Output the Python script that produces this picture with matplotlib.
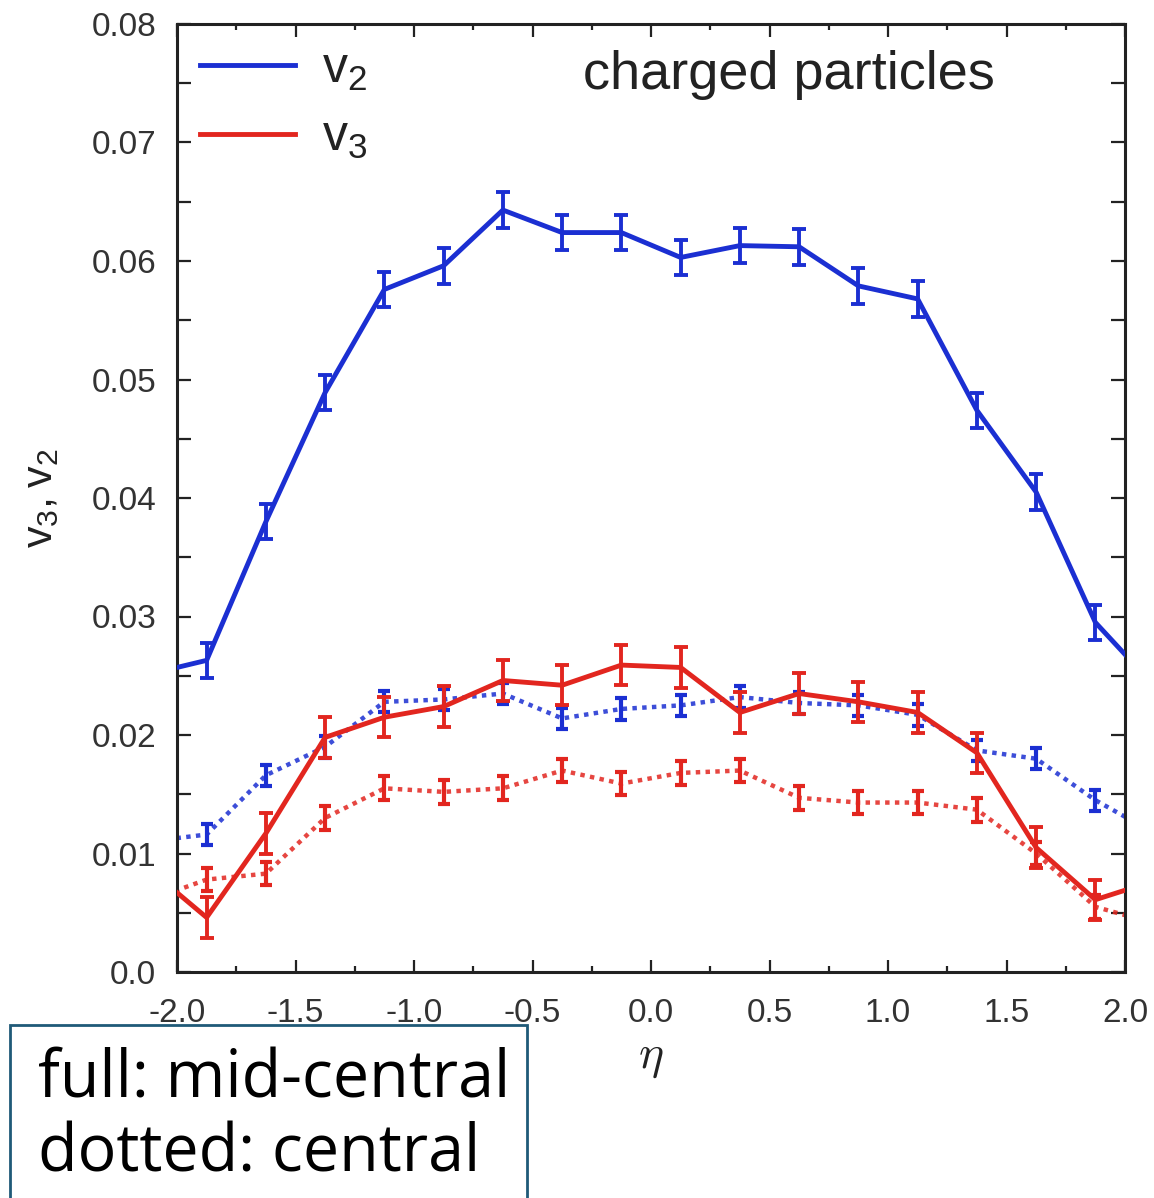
import matplotlib
matplotlib.use("Agg")
import matplotlib.pyplot as plt
import numpy as np
from matplotlib.ticker import MultipleLocator, FixedLocator
from matplotlib.patches import Rectangle

# ---- data ----
eta = [-1.875, -1.625, -1.375, -1.125, -0.875, -0.625, -0.375, -0.125,
       0.125, 0.375, 0.625, 0.875, 1.125, 1.375, 1.625, 1.875]
# points just outside the visible range (lines continue to the frame)
eta_left = -2.125
eta_right = 2.125

v2_mid = [0.0263, 0.0380, 0.0489, 0.0576, 0.0596, 0.0643, 0.0624, 0.0624,
          0.0603, 0.0613, 0.0612, 0.0579, 0.0568, 0.0474, 0.0405, 0.0295]
v2_mid_edge = [0.0251, 0.0241]
v2_mid_err = 0.0015

v3_mid = [0.0046, 0.0117, 0.0198, 0.0215, 0.0224, 0.0246, 0.0242, 0.0259,
          0.0257, 0.0219, 0.0235, 0.0228, 0.0219, 0.0185, 0.0105, 0.0061]
v3_mid_edge = [0.0088, 0.0077]
v3_mid_err = 0.0017

v2_cen = [0.0116, 0.0166, 0.0190, 0.0228, 0.0230, 0.0235, 0.0214, 0.0222,
          0.0225, 0.0232, 0.0227, 0.0225, 0.0217, 0.0187, 0.0180, 0.0145]
v2_cen_edge = [0.0110, 0.0117]
v2_cen_err = 0.0009

v3_cen = [0.0078, 0.0083, 0.0130, 0.0155, 0.0152, 0.0155, 0.0170, 0.0159,
          0.0168, 0.0170, 0.0147, 0.0143, 0.0143, 0.0137, 0.0100, 0.0055]
v3_cen_edge = [0.0060, 0.0041]
v3_cen_err = 0.0010

xticks = [-2.0, -1.5, -1.0, -0.5, 0.0, 0.5, 1.0, 1.5, 2.0]
xticklabels = ["-2.0", "-1.5", "-1.0", "-0.5", "0.0", "0.5", "1.0", "1.5", "2.0"]
yticks = [0.0, 0.01, 0.02, 0.03, 0.04, 0.05, 0.06, 0.07, 0.08]
yticklabels = ["0.0", "0.01", "0.02", "0.03", "0.04", "0.05", "0.06", "0.07", "0.08"]

BLUE = "#1b2fd2"
RED = "#e2261f"

plt.rcParams['font.family'] = ['Liberation Sans', 'DejaVu Sans']

fig = plt.figure(figsize=(11.54, 11.98), dpi=100)
ax = fig.add_axes([177/1154, 1 - 972/1198, (1125-177)/1154, (972-24)/1198])

def full(vals, edge):
    xs = [eta_left] + eta + [eta_right]
    ys = [edge[0]] + vals + [edge[1]]
    return xs, ys

# central (dotted)
for vals, edge, err, col in [(v2_cen, v2_cen_edge, v2_cen_err, BLUE),
                             (v3_cen, v3_cen_edge, v3_cen_err, RED)]:
    xs, ys = full(vals, edge)
    ax.plot(xs, ys, color=col, lw=3.2, ls=(0, (1, 1.2)), alpha=0.85, zorder=2)
    ax.errorbar(eta, vals, yerr=err, fmt='none', ecolor=col, elinewidth=3,
                capsize=4, capthick=3, zorder=3)

# mid-central (solid)
for vals, edge, err, col, lab in [(v2_mid, v2_mid_edge, v2_mid_err, BLUE, r'$\mathregular{v_2}$'),
                                  (v3_mid, v3_mid_edge, v3_mid_err, RED, r'$\mathregular{v_3}$')]:
    xs, ys = full(vals, edge)
    ax.plot(xs, ys, color=col, lw=3.5, zorder=4, label=lab)
    ax.errorbar(eta, vals, yerr=err, fmt='none', ecolor=col, elinewidth=2.8,
                capsize=5, capthick=2.8, zorder=5)

ax.set_xlim(-2.0, 2.0)
ax.set_ylim(0.0, 0.08)
ax.xaxis.set_major_locator(FixedLocator(xticks))
ax.set_xticklabels(xticklabels)
ax.xaxis.set_minor_locator(MultipleLocator(0.25))
ax.yaxis.set_major_locator(FixedLocator(yticks))
ax.set_yticklabels(yticklabels)
ax.yaxis.set_minor_locator(MultipleLocator(0.005))

ax.tick_params(axis='both', which='both', direction='in', top=True, right=True,
               width=1.6, colors='#222222', labelsize=24)
ax.tick_params(axis='x', which='major', length=9, pad=19)
ax.tick_params(axis='x', which='minor', length=4)
ax.tick_params(axis='y', which='both', length=10, pad=15)
for lab in ax.get_xticklabels() + ax.get_yticklabels():
    lab.set_color('#333333')
for s in ax.spines.values():
    s.set_linewidth(2.2)
    s.set_color('#222222')

ax.set_ylabel(r'$\mathregular{v_3, v_2}$', fontsize=31, color='#222222', labelpad=22)
fig.text(651/1154, 1 - 1058/1198, r'$\eta$', math_fontfamily='cm',
         fontsize=34, ha='center', va='center', color='#222222')

leg = ax.legend(loc='upper left', frameon=False, fontsize=36, handlelength=1.9,
                handletextpad=0.55, labelspacing=0.45, borderaxespad=0.1,
                borderpad=0.35)
for t in leg.get_texts():
    t.set_color('#222222')

ax.text((995-177)/948, 1 - (75-24)/948, 'charged particles', transform=ax.transAxes,
        fontsize=39, ha='right', va='center', color='#222222')

# annotation box at bottom-left
fig.patches.append(Rectangle((10/1154, -0.01), (527-10)/1154, 1 - 1025/1198 + 0.01,
                             transform=fig.transFigure, fill=True, facecolor='white',
                             edgecolor='#1f5a78', lw=2))
fig.text(38/1154, 1 - 1080/1198, 'full: mid-central', fontsize=46.5, family='Open Sans',
         ha='left', va='center', color='black')
fig.text(38/1154, 1 - 1155/1198, 'dotted: central', fontsize=46.5, family='Open Sans',
         ha='left', va='center', color='black')

fig.savefig('out.png', dpi=100)
